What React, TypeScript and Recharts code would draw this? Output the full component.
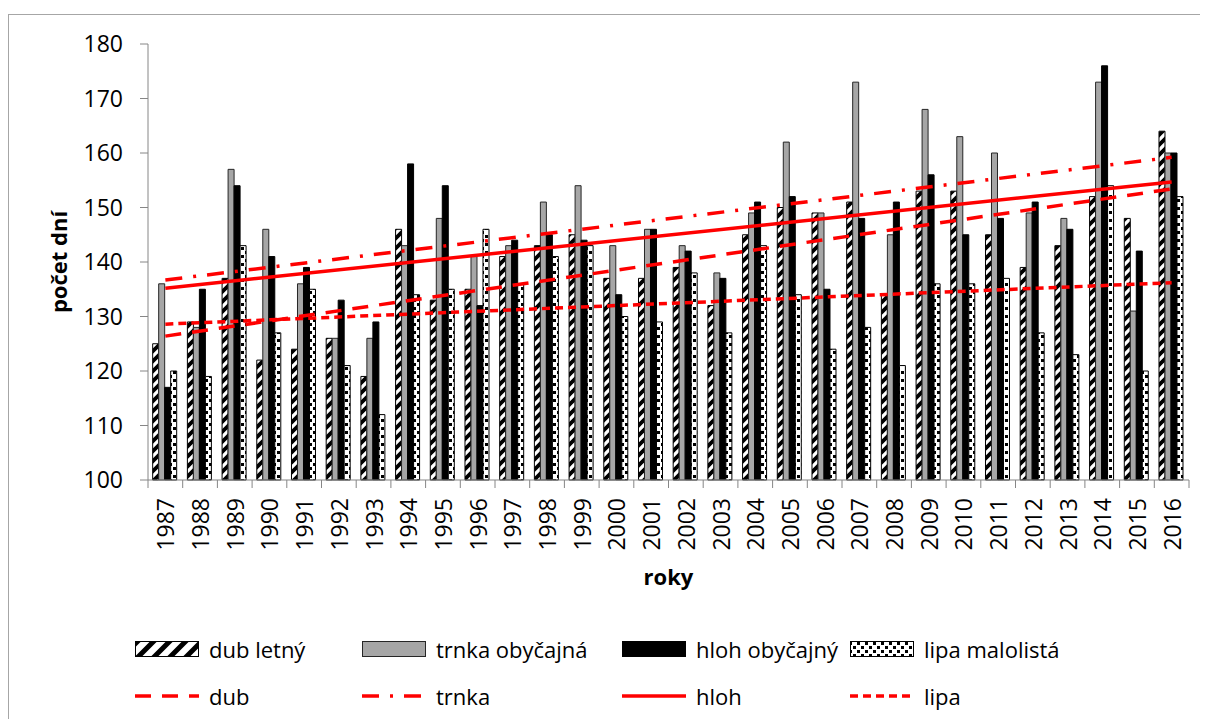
import { ComposedChart, Bar, Line, XAxis, YAxis, Legend, Label } from 'recharts';

const years = [
  '1987', '1988', '1989', '1990', '1991', '1992', '1993', '1994', '1995', '1996',
  '1997', '1998', '1999', '2000', '2001', '2002', '2003', '2004', '2005', '2006',
  '2007', '2008', '2009', '2010', '2011', '2012', '2013', '2014', '2015', '2016',
];

const dubLetny = [
  125, 129, 137, 122, 124, 126, 119, 146, 133, 135,
  141, 143, 145, 137, 137, 139, 132, 145, 150, 149,
  151, 134, 153, 153, 145, 139, 143, 152, 148, 164,
];
const trnkaObycajna = [
  136, 128, 157, 146, 136, 126, 126, 143, 148, 141,
  143, 151, 154, 143, 146, 143, 138, 149, 162, 149,
  173, 145, 168, 163, 160, 149, 148, 173, 131, 160,
];
const hlohObycajny = [
  117, 135, 154, 141, 139, 133, 129, 158, 154, 132,
  144, 145, 144, 134, 146, 142, 137, 151, 152, 135,
  148, 151, 156, 145, 148, 151, 146, 176, 142, 160,
];
const lipaMalolista = [
  120, 119, 143, 127, 135, 121, 112, 134, 135, 146,
  136, 141, 143, 130, 129, 138, 127, 143, 134, 124,
  128, 121, 136, 136, 137, 127, 123, 154, 120, 152,
];

// linear trend lines: value at the first and the last year
const dubTrend = [126.4, 153.4];
const trnkaTrend = [136.7, 159.2];
const hlohTrend = [135.2, 154.7];
const lipaTrend = [128.6, 136.2];

const yTicks = [100, 110, 120, 130, 140, 150, 160, 170, 180];

const ends = (trend: number[], i: number) =>
  i === 0 ? trend[0] : i === years.length - 1 ? trend[1] : null;

const data = years.map((year, i) => ({
  year,
  dubLetny: dubLetny[i],
  trnkaObycajna: trnkaObycajna[i],
  hlohObycajny: hlohObycajny[i],
  lipaMalolista: lipaMalolista[i],
  dub: ends(dubTrend, i),
  trnka: ends(trnkaTrend, i),
  hloh: ends(hlohTrend, i),
  lipa: ends(lipaTrend, i),
}));

const FONT = '"Open Sans", sans-serif';
const AXIS = '#868686';
const RED = '#FF0000';
const PLOT_W = 1041;
const BAND = PLOT_W / years.length;
const TICK_MARGIN = 18;

const YearTick = (props: any) => {
  const { x, y, payload, index } = props;
  const axisY = y - TICK_MARGIN;
  const half = BAND / 2;
  return (
    <g>
      <line x1={x - half} x2={x - half} y1={axisY} y2={axisY + 8} stroke={AXIS} />
      {index === years.length - 1 && (
        <line x1={x + half} x2={x + half} y1={axisY} y2={axisY + 8} stroke={AXIS} />
      )}
      <text
        x={x}
        y={y}
        transform={`rotate(-90 ${x} ${y})`}
        textAnchor="end"
        dominantBaseline="central"
        fontSize={23}
        fontFamily={FONT}
        fill="#000"
      >
        {payload.value}
      </text>
    </g>
  );
};

const legendBars = [
  { name: 'dub letný', fill: 'url(#dubPattern)', stroke: '#000' },
  { name: 'trnka obyčajná', fill: '#A6A6A6', stroke: '#262626' },
  { name: 'hloh obyčajný', fill: '#000', stroke: '#000' },
  { name: 'lipa malolistá', fill: 'url(#lipaPattern)', stroke: '#000' },
];
const legendLines = [
  { name: 'dub', dash: '16 11' },
  { name: 'trnka', dash: '17 11 3 11' },
  { name: 'hloh', dash: undefined },
  { name: 'lipa', dash: '8 5' },
];
const legendCols = [126, 353, 613, 841];

const renderLegend = () => (
  <div style={{ position: 'relative', width: 1198, height: 100, fontFamily: FONT, fontSize: 22 }}>
    <svg width={1198} height={100} style={{ position: 'absolute', left: 0, top: 0 }}>
      <defs>
        <pattern id="dubPatternL" patternUnits="userSpaceOnUse" width={16} height={16}>
          <rect width={16} height={16} fill="#fff" />
          <path d="M-4,4 l8,-8 M0,16 l16,-16 M12,20 l8,-8" stroke="#000" strokeWidth={5} />
        </pattern>
      </defs>
      {legendBars.map((b, i) => (
        <rect
          key={b.name}
          x={legendCols[i] + 0.5}
          y={31.5}
          width={63}
          height={15}
          fill={i === 0 ? 'url(#dubPatternL)' : b.fill}
          stroke={b.stroke}
        />
      ))}
      {legendLines.map((l, i) => (
        <line
          key={l.name}
          x1={legendCols[i]}
          x2={legendCols[i] + 64}
          y1={86}
          y2={86}
          stroke={RED}
          strokeWidth={3.5}
          strokeDasharray={l.dash}
        />
      ))}
    </svg>
    {legendBars.map((b, i) => (
      <span key={b.name} style={{ position: 'absolute', left: legendCols[i] + 74, top: 39, transform: 'translateY(-50%)', whiteSpace: 'nowrap', lineHeight: 1 }}>
        {b.name}
      </span>
    ))}
    {legendLines.map((l, i) => (
      <span key={l.name} style={{ position: 'absolute', left: legendCols[i] + 74, top: 86, transform: 'translateY(-50%)', whiteSpace: 'nowrap', lineHeight: 1 }}>
        {l.name}
      </span>
    ))}
  </div>
);

const YTitle = (props: any) => {
  const { viewBox } = props;
  const cx = viewBox.x + 49;
  const cy = viewBox.y + viewBox.height / 2;
  return (
    <text
      x={cx}
      y={cy}
      transform={`rotate(-90 ${cx} ${cy})`}
      textAnchor="middle"
      dominantBaseline="central"
      fontSize={22}
      fontWeight="bold"
      fontFamily={FONT}
      fill="#000"
    >
      počet dní
    </text>
  );
};

const App = () => (
  <div
    style={{
      width: 1199,
      height: 705,
      marginTop: 6,
      borderTop: '1px solid #A6A6A6',
      borderLeft: '1px solid #A6A6A6',
      background: '#fff',
      fontFamily: FONT,
      boxSizing: 'border-box',
    }}
  >
    <ComposedChart
      width={1198}
      height={704}
      data={data}
      margin={{ top: 29, right: 18, bottom: 9, left: 0 }}
      barCategoryGap="13.5%"
      barGap={0}
    >
      <defs>
        <pattern id="dubPattern" patternUnits="userSpaceOnUse" width={10} height={10}>
          <rect width={10} height={10} fill="#fff" />
          <path d="M-2.5,2.5 l5,-5 M0,10 l10,-10 M7.5,12.5 l5,-5" stroke="#000" strokeWidth={3.8} />
        </pattern>
        <pattern id="lipaPattern" patternUnits="userSpaceOnUse" width={8} height={8}>
          <rect width={8} height={8} fill="#fff" />
          <rect x={0} y={0} width={3} height={3} fill="#000" />
          <rect x={4} y={4} width={3} height={3} fill="#000" />
        </pattern>
      </defs>
      <XAxis
        dataKey="year"
        interval={0}
        height={130}
        stroke={AXIS}
        tickLine={false}
        tickSize={0}
        tickMargin={TICK_MARGIN}
        tick={<YearTick />}
      >
        <Label
          value="roky"
          position="insideBottom"
          offset={25}
          style={{ fontSize: 22, fontWeight: 'bold', fontFamily: FONT, fill: '#000' }}
        />
      </XAxis>
      <YAxis
        width={139}
        domain={[100, 180]}
        ticks={yTicks}
        interval={0}
        stroke={AXIS}
        tickSize={8}
        tickMargin={17}
        tick={{ fill: '#000', fontSize: 23, fontFamily: FONT }}
      >
        <Label content={<YTitle />} />
      </YAxis>
      <Legend verticalAlign="bottom" content={renderLegend} wrapperStyle={{ left: 0, width: 1198, height: 100 }} />
      <Bar dataKey="dubLetny" name="dub letný" fill="url(#dubPattern)" stroke="#000" strokeWidth={1} isAnimationActive={false} />
      <Bar dataKey="trnkaObycajna" name="trnka obyčajná" fill="#A6A6A6" stroke="#262626" strokeWidth={1} isAnimationActive={false} />
      <Bar dataKey="hlohObycajny" name="hloh obyčajný" fill="#000" stroke="#000" strokeWidth={1} isAnimationActive={false} />
      <Bar dataKey="lipaMalolista" name="lipa malolistá" fill="url(#lipaPattern)" stroke="#000" strokeWidth={1} isAnimationActive={false} />
      <Line dataKey="dub" type="linear" stroke={RED} strokeWidth={3.5} strokeDasharray="16 11" dot={false} activeDot={false} connectNulls isAnimationActive={false} />
      <Line dataKey="trnka" type="linear" stroke={RED} strokeWidth={3.5} strokeDasharray="17 11 3 11" dot={false} activeDot={false} connectNulls isAnimationActive={false} />
      <Line dataKey="hloh" type="linear" stroke={RED} strokeWidth={3.5} dot={false} activeDot={false} connectNulls isAnimationActive={false} />
      <Line dataKey="lipa" type="linear" stroke={RED} strokeWidth={3.5} strokeDasharray="8 5" dot={false} activeDot={false} connectNulls isAnimationActive={false} />
    </ComposedChart>
  </div>
);

export default App;
